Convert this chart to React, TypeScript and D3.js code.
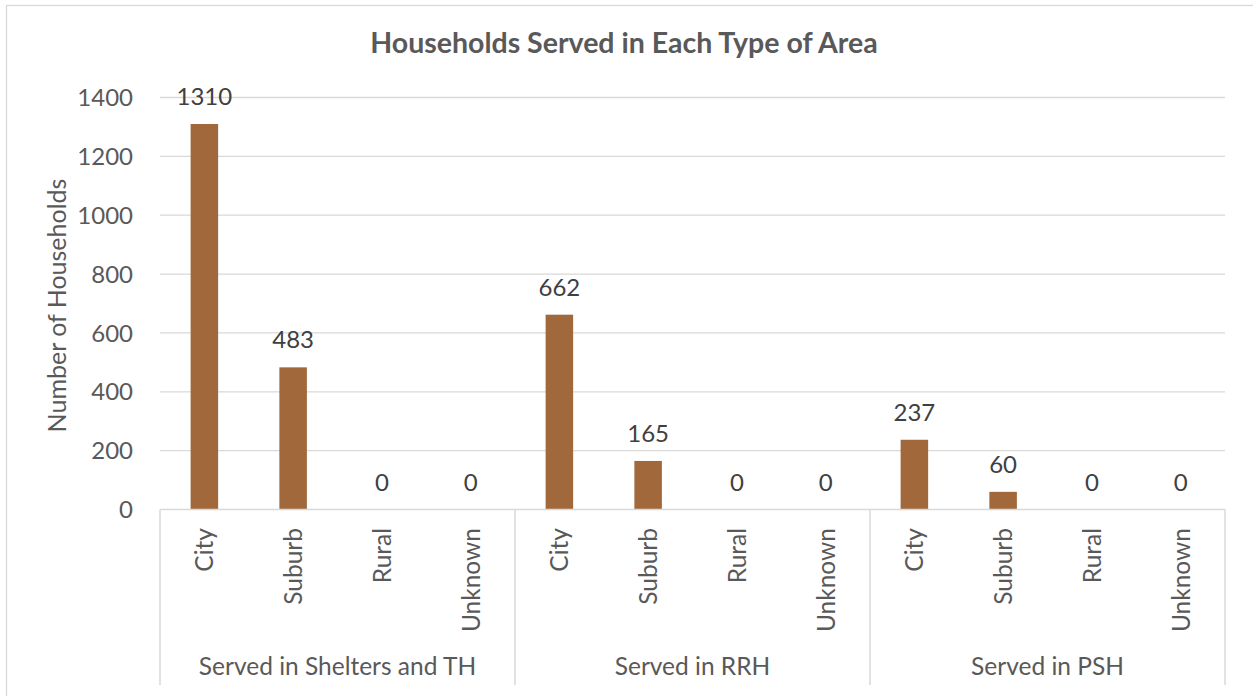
import React from "react";
import * as d3 from "d3";

const groups = ["Served in Shelters and TH", "Served in RRH", "Served in PSH"];
const areas = ["City", "Suburb", "Rural", "Unknown"];
const shelterValues = [1310, 483, 0, 0];
const rrhValues = [662, 165, 0, 0];
const pshValues = [237, 60, 0, 0];
const yTicks = [0, 200, 400, 600, 800, 1000, 1200, 1400];

const W = 1253;
const H = 696;
const FONT = "Lato, 'Open Sans', sans-serif";
const TEXT = "#595959";
const GRID = "#D9D9D9";
const BAR = "#A0683B";

export default function App() {
  const allValues = [shelterValues, rrhValues, pshValues];
  const rows = groups.flatMap((g, gi) =>
    areas.map((a, ai) => ({ key: `${gi}-${a}`, group: g, area: a, value: allValues[gi][ai] }))
  );
  const left = 160;
  const right = 1225;
  const top = 97.5;
  const bottom = 509.5;
  const x = d3.scaleBand<string>().domain(rows.map((r) => r.key)).range([left, right]).paddingInner(0.69).paddingOuter(0.345);
  const xg = d3.scaleBand<string>().domain(groups).range([left, right]);
  const y = d3.scaleLinear().domain([0, 1400]).range([bottom, top]);

  return (
    <svg width={W} height={H} style={{ position: "absolute", left: 0, top: 0, background: "#fff" }} fontFamily={FONT}>
      <rect x={6.5} y={5.5} width={1250} height={700} fill="#fff" stroke={GRID} strokeWidth={1.3} />
      <text x={624} y={53} textAnchor="middle" fontSize={28.5} fontWeight="bold" fill={TEXT}>
        Households Served in Each Type of Area
      </text>
      {yTicks.map((t) => (
        <g key={t}>
          {t > 0 && <line x1={left} x2={right} y1={y(t)} y2={y(t)} stroke={GRID} strokeWidth={1.3} />}
          <text x={133} y={y(t)} dy="0.36em" textAnchor="end" fontSize={24} fill={TEXT}>
            {t}
          </text>
        </g>
      ))}
      <text transform={`translate(66,${(top + bottom) / 2 + 2}) rotate(-90)`} textAnchor="middle" fontSize={25} fill={TEXT}>
        Number of Households
      </text>
      {rows.map((r) => (
        <g key={r.key}>
          <rect x={x(r.key)} y={y(r.value)} width={x.bandwidth()} height={bottom - y(r.value)} fill={BAR} />
          <text x={(x(r.key) as number) + x.bandwidth() / 2} y={y(r.value) - 19} textAnchor="middle" fontSize={24} fill="#404040">
            {r.value}
          </text>
          <text
            transform={`translate(${(x(r.key) as number) + x.bandwidth() / 2 + 9},528) rotate(-90)`}
            textAnchor="end"
            fontSize={24.5}
            fill={TEXT}
          >
            {r.area}
          </text>
        </g>
      ))}
      <line x1={left} x2={right} y1={bottom} y2={bottom} stroke={GRID} strokeWidth={1.5} />
      {[left, ...groups.map((g) => (xg(g) as number) + xg.bandwidth())].map((gx, i) => (
        <line key={i} x1={gx} x2={gx} y1={bottom} y2={685} stroke={GRID} strokeWidth={1.5} />
      ))}
      {groups.map((g) => (
        <text key={g} x={(xg(g) as number) + xg.bandwidth() / 2} y={675} textAnchor="middle" fontSize={24.5} fill={TEXT}>
          {g}
        </text>
      ))}
    </svg>
  );
}
